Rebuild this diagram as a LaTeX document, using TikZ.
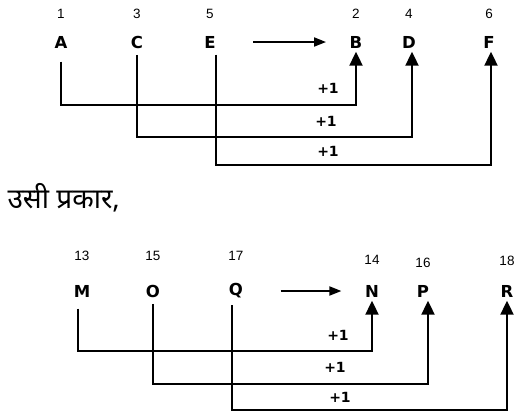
\documentclass[tikz,border=0pt]{standalone}
\usepackage{fontspec}
\setmainfont{Liberation Sans}
\newfontfamily\boldsans{DejaVu Sans}
\newfontfamily\hindifont[Script=Devanagari]{Noto Sans}
\usetikzlibrary{arrows.meta,positioning}

\tikzset{
    letter/.style={font=\boldsans\bfseries\fontsize{16.5}{16.5}\selectfont, inner sep=3.5pt},
    num/.style={font=\fontsize{13.5}{13.5}\selectfont, inner sep=1pt},
    plus/.style={font=\boldsans\bfseries\fontsize{14}{14}\selectfont, inner sep=1pt},
    link/.style={line width=2.2pt, -{Triangle[length=14pt,width=13pt]}},
    flow/.style={line width=1.8pt, -{Triangle[length=12pt,width=9pt]}},
}

\begin{document}
\begin{tikzpicture}[x=1pt,y=-1pt]
    \useasboundingbox (0,0) rectangle (517,416);
    % first series
    \foreach \l/\n/\x in {A/1/61,C/3/137,E/5/210,B/2/356,D/4/409,F/6/489} {
        \node[letter] (\l) at (\x,42) {\l};
        \node[num] (n\l) at (\x,14) {\n};
    }
    \draw[flow, shorten <=34pt, shorten >=20pt] (E) -- (B);
    \coordinate (lowA) at (0,105);
    \coordinate (lowC) at (0,137);
    \coordinate (lowE) at (0,165);
    \draw[link, shorten <=10pt] (A.south) -- (A.south |- lowA) -| (B.south);
    \draw[link, shorten <=3pt] (C.south) -- (C.south |- lowC) -| ([xshift=3pt]D.south);
    \draw[link, shorten <=3pt] ([xshift=6pt]E.south) -- ([xshift=6pt]E.south |- lowE) -| ([xshift=2pt]F.south);
    \node[plus] (pA) at (328,88) {+1};
    \node[plus] (pC) at (326,121) {+1};
    \node[plus] (pE) at (328,151) {+1};

    \node[font=\hindifont\fontsize{28}{28}\selectfont, anchor=west] (similar) at (4,198) {उसी प्रकार,};

    % second series
    \foreach \l/\n/\x/\y in {M/13/82/256,O/15/153/256,Q/17/236/256,N/14/372/260,P/16/423/263,R/18/507/261} {
        \node[letter] (\l) at (\x,291) {\l};
        \node[num] (n\l) at (\x,\y) {\n};
    }
    \draw[flow, shorten <=34pt, shorten >=20pt] (Q) -- (N);
    \coordinate (lowM) at (0,351);
    \coordinate (lowO) at (0,384);
    \coordinate (lowQ) at (0,410);
    \draw[link, shorten <=8pt] ([xshift=-4pt]M.south) -- ([xshift=-4pt]M.south |- lowM) -| (N.south);
    \draw[link, shorten <=3pt] (O.south) -- (O.south |- lowO) -| ([xshift=5pt]P.south);
    \draw[link, shorten <=3pt] ([xshift=-4pt]Q.south) -- ([xshift=-4pt]Q.south |- lowQ) -| (R.south);
    \node[plus] (pM) at (338,335) {+1};
    \node[plus] (pO) at (335,367) {+1};
    \node[plus] (pQ) at (340,397) {+1};
\end{tikzpicture}
\end{document}
